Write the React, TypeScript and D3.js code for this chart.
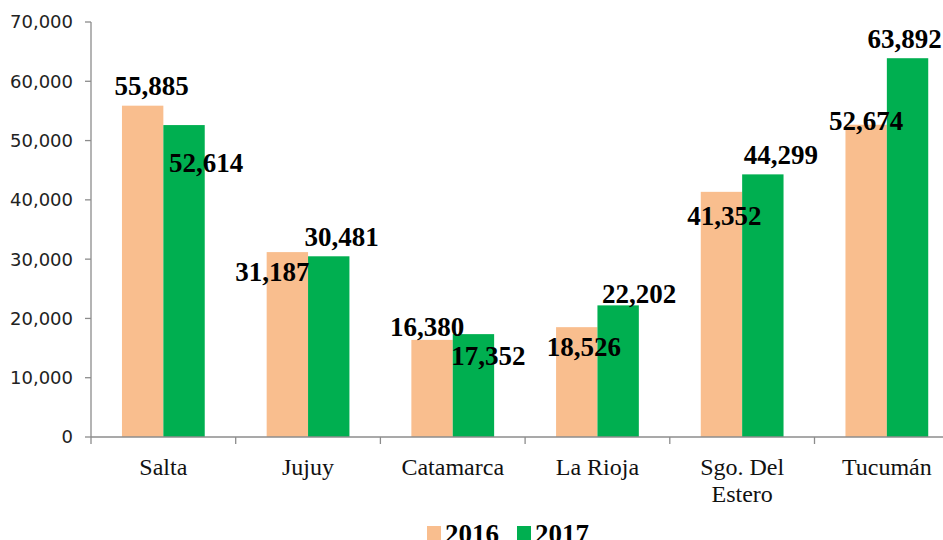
import React from "react";
import * as d3 from "d3";

const categories = ["Salta", "Jujuy", "Catamarca", "La Rioja", "Sgo. Del\nEstero", "Tucumán"];
const series = ["2016", "2017"];
const values2016 = [55885, 31187, 16380, 18526, 41352, 52674];
const values2017 = [52614, 30481, 17352, 22202, 44299, 63892];
const yTicks = [0, 10000, 20000, 30000, 40000, 50000, 60000, 70000];

// label offsets relative to bar top-center (layout config, not data)
const labelDx2016 = [9, -15, -5, 7, 3, 0];
const labelDy2016 = [-11, 29, -4, 29, 33, 5];
const labelDx2017 = [22, 13, 15, 21, 18, -3];
const labelDy2017 = [47, -10, 31, -2, -10, -10];

const W = 943;
const H = 540;
const colors = ["#F9BE8E", "#00AF50"];

export default function App() {
  const left = 91;
  const bandW = 144.7;
  const x0 = d3.scaleBand<string>().domain(categories).range([left, left + bandW * categories.length]).paddingInner(0).paddingOuter(0);
  const x1 = d3.scaleBand<string>().domain(series).range([bandW * 0.214, bandW * 0.786]).padding(0);
  const y = d3.scaleLinear().domain([0, 70000]).range([437, 22]);
  const fmt = d3.format(",");
  const axisColor = "#8c8c8c";
  const seriesVals = [values2016, values2017];
  const dxs = [labelDx2016, labelDx2017];
  const dys = [labelDy2016, labelDy2017];
  const xEnd = left + bandW * categories.length;

  return (
    <svg width={W} height={H} style={{ position: "absolute", left: 0, top: 0, background: "#fff" }}>
      <rect x={0} y={0} width={W} height={H} fill="#ffffff" />
      {/* y axis */}
      <line x1={left} x2={left} y1={y(70000)} y2={y(0)} stroke={axisColor} strokeWidth={1.3} />
      {yTicks.map((t) => (
        <g key={t}>
          <line x1={left - 6} x2={left} y1={y(t)} y2={y(t)} stroke={axisColor} strokeWidth={1.3} />
          <text x={73} y={y(t)} dy="0.36em" textAnchor="end" fontFamily="DejaVu Sans" fontSize={18} fill="#222">
            {fmt(t)}
          </text>
        </g>
      ))}
      {/* bars */}
      {categories.map((c, i) =>
        series.map((s, k) => {
          const v = seriesVals[k][i];
          return (
            <rect key={c + s} x={(x0(c) as number) + (x1(s) as number)} y={y(v)} width={x1.bandwidth()} height={y(0) - y(v)} fill={colors[k]} />
          );
        })
      )}
      {/* x axis */}
      <line x1={left} x2={xEnd} y1={y(0)} y2={y(0)} stroke={axisColor} strokeWidth={1.3} />
      {categories.map((c, i) => (
        <line key={"t" + i} x1={x0(c) as number} x2={x0(c) as number} y1={y(0)} y2={y(0) + 7} stroke={axisColor} strokeWidth={1.3} />
      ))}
      {categories.map((c) => {
        const cx = (x0(c) as number) + bandW / 2;
        const lines = c.split("\n");
        return (
          <text key={"l" + c} x={cx} y={475} textAnchor="middle" fontFamily="Liberation Serif" fontSize={24} fill="#111">
            {lines.map((ln, j) => (
              <tspan key={j} x={cx} dy={j === 0 ? 0 : 27}>
                {ln}
              </tspan>
            ))}
          </text>
        );
      })}
      {/* data labels */}
      {categories.map((c, i) =>
        series.map((s, k) => {
          const v = seriesVals[k][i];
          const cx = (x0(c) as number) + (x1(s) as number) + x1.bandwidth() / 2;
          return (
            <text key={"d" + c + s} x={cx + dxs[k][i]} y={y(v) + dys[k][i]} textAnchor="middle" fontFamily="Liberation Serif" fontWeight="bold" fontSize={27} fill="#000">
              {fmt(v)}
            </text>
          );
        })
      )}
      {/* legend */}
      {series.map((s, k) => {
        const lx = k === 0 ? 427 : 517;
        return (
          <g key={"lg" + s}>
            <rect x={lx} y={526} width={14} height={14} fill={colors[k]} />
            <text x={lx + 18} y={543} fontFamily="Liberation Serif" fontWeight="bold" fontSize={27} fill="#000">
              {s}
            </text>
          </g>
        );
      })}
    </svg>
  );
}
